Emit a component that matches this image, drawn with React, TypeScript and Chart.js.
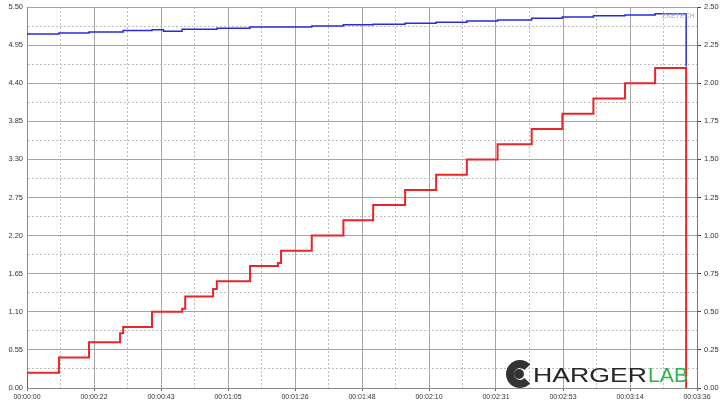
import React, { useEffect, useRef } from "react";
import { Chart, registerables } from "chart.js";

Chart.register(...registerables);

// Current (A, right axis) step changes: time in seconds
const currentTimes = [0, 0, 10.3, 20, 30, 31, 40.3, 50, 51, 60, 61.2, 71.9, 80.9, 81.9, 91.8, 102, 111.6, 121.9, 131.9, 141.8, 151.7, 162.7, 172.6, 182.6, 192.8, 202.5, 212.5];
const currentA = [0, 0.1, 0.2, 0.3, 0.36, 0.4, 0.5, 0.52, 0.6, 0.65, 0.7, 0.8, 0.82, 0.9, 1.0, 1.1, 1.2, 1.3, 1.4, 1.5, 1.6, 1.7, 1.8, 1.9, 2.0, 2.1, 0];

// Voltage (V, left axis) step changes
const voltageTimes = [0, 10.3, 20, 31, 40.3, 44, 50, 61.2, 71.9, 91.8, 102, 111.6, 121.9, 131.9, 141.8, 151.7, 162.7, 172.6, 182.6, 192.8, 202.5, 212.5];
const voltageV = [5.11, 5.125, 5.14, 5.16, 5.17, 5.15, 5.18, 5.195, 5.21, 5.227, 5.245, 5.252, 5.266, 5.28, 5.299, 5.313, 5.338, 5.356, 5.375, 5.385, 5.404, 4.64];

const xTickLabels = ["00:00:00", "00:00:22", "00:00:43", "00:01:05", "00:01:26", "00:01:48", "00:02:10", "00:02:31", "00:02:53", "00:03:14", "00:03:36"];
const leftTickLabels = ["0.00", "0.55", "1.10", "1.65", "2.20", "2.75", "3.30", "3.85", "4.40", "4.95", "5.50"];
const rightTickLabels = ["0.00", "0.25", "0.50", "0.75", "1.00", "1.25", "1.50", "1.75", "2.00", "2.25", "2.50"];

const X_MAX = 216;
const LEFT_MAX = 5.5;
const RIGHT_MAX = 2.5;

const MAJOR = "#a5a5a5";
const MINOR = "#bdbdbd";
const FONT = "'Liberation Sans', Arial, sans-serif";

const overlayPlugin = {
  id: "overlay",
  afterDraw(chart: any) {
    const ctx = chart.ctx as CanvasRenderingContext2D;
    ctx.save();
    // watermark
    ctx.font = `7px ${FONT}`;
    ctx.fillStyle = "#a9a9b9";
    ctx.textBaseline = "middle";
    ctx.textAlign = "left";
    ctx.fillText("ZKETECH", 662, 16);

    // logo icon
    ctx.strokeStyle = "#333";
    ctx.lineWidth = 8;
    ctx.beginPath();
    ctx.arc(520, 374, 10, 0.24 * Math.PI, 1.76 * Math.PI);
    ctx.stroke();
    ctx.fillStyle = "#333";
    ctx.beginPath();
    ctx.arc(519, 374, 5, 0, Math.PI * 2);
    ctx.fill();

    // logo text
    ctx.textBaseline = "alphabetic";
    ctx.font = `500 21px ${FONT}`;
    ctx.fillStyle = "#262626";
    const w1 = ctx.measureText("HARGER").width;
    ctx.save();
    ctx.translate(533, 382);
    ctx.scale(114 / w1, 1);
    ctx.fillText("HARGER", 0, 0);
    ctx.restore();
    ctx.font = `21px ${FONT}`;
    ctx.fillStyle = "#2fb24f";
    const w2 = ctx.measureText("LAB").width;
    ctx.save();
    ctx.translate(648, 382);
    ctx.scale(40 / w2, 1);
    ctx.fillText("LAB", 0, 0);
    ctx.restore();
    ctx.restore();
  },
};

export default function App() {
  const ref = useRef<HTMLCanvasElement | null>(null);

  useEffect(() => {
    if (!ref.current) return;
    const chart = new Chart(ref.current, {
      type: "line",
      data: {
        datasets: [
          {
            label: "Current",
            data: currentTimes.map((t, i) => ({ x: t, y: currentA[i] })),
            yAxisID: "yR",
            borderColor: "#e8262a",
            borderWidth: 2,
            pointRadius: 0,
            stepped: "before",
            fill: false,
          },
          {
            label: "Voltage",
            data: voltageTimes.map((t, i) => ({ x: t, y: voltageV[i] })),
            yAxisID: "yL",
            borderColor: "#2a2adc",
            borderWidth: 1.5,
            pointRadius: 0,
            stepped: "before",
            fill: false,
          },
        ],
      },
      options: {
        animation: false,
        responsive: true,
        maintainAspectRatio: false,
        layout: { padding: { top: 6, left: 0, right: 0, bottom: 0 } },
        plugins: { legend: { display: false }, tooltip: { enabled: false } },
        scales: {
          x: {
            type: "linear",
            min: 0,
            max: X_MAX,
            afterBuildTicks: (s: any) => {
              s.ticks = Array.from({ length: 21 }, (_, i) => ({ value: (i * X_MAX) / 20 }));
            },
            afterFit: (s: any) => {
              s.height = 21;
            },
            ticks: {
              autoSkip: false,
              maxRotation: 0,
              minRotation: 0,
              padding: 2,
              color: "#333",
              font: { family: FONT, size: 7 },
              callback: (_v: any, i: number) => (i % 2 === 0 ? xTickLabels[i / 2] : ""),
            },
            grid: {
              color: (c: any) => (c.index % 2 === 0 ? MAJOR : MINOR),
              lineWidth: 1,
              drawTicks: true,
              tickLength: 3,
              tickColor: (c: any) => (c.index % 2 === 0 ? "#666" : "rgba(0,0,0,0)"),
            },
            border: {
              display: true,
              color: "#888",
              dash: (c: any) => (c.type === "tick" && c.index % 2 === 1 ? [2, 2] : []),
            },
          },
          yL: {
            type: "linear",
            position: "left",
            min: 0,
            max: LEFT_MAX,
            afterBuildTicks: (s: any) => {
              s.ticks = Array.from({ length: 21 }, (_, i) => ({ value: (i * LEFT_MAX) / 20 }));
            },
            afterFit: (s: any) => {
              s.width = 27;
            },
            ticks: {
              autoSkip: false,
              padding: 4,
              color: "#333",
              font: { family: FONT, size: 7.5, lineHeight: 0.8 },
              callback: (_v: any, i: number) => (i % 2 === 0 ? leftTickLabels[i / 2] : ""),
            },
            grid: {
              color: (c: any) => (c.index % 2 === 0 ? MAJOR : MINOR),
              lineWidth: 1,
              drawTicks: false,
            },
            border: {
              display: true,
              color: "#888",
              dash: (c: any) => (c.type === "tick" && c.index % 2 === 1 ? [2, 2] : []),
            },
          },
          yR: {
            type: "linear",
            position: "right",
            min: 0,
            max: RIGHT_MAX,
            afterBuildTicks: (s: any) => {
              s.ticks = Array.from({ length: 11 }, (_, i) => ({ value: (i * RIGHT_MAX) / 10 }));
            },
            afterFit: (s: any) => {
              s.width = 23;
            },
            ticks: {
              autoSkip: false,
              padding: 3,
              color: "#333",
              font: { family: FONT, size: 7.5, lineHeight: 0.8 },
              callback: (_v: any, i: number) => rightTickLabels[i],
            },
            grid: {
              drawOnChartArea: false,
              drawTicks: true,
              tickLength: 4,
              tickColor: "#444",
            },
            border: { display: true, color: "#777" },
          },
        },
      },
      plugins: [overlayPlugin],
    } as any);
    return () => chart.destroy();
  }, []);

  return (
    <div style={{ position: "absolute", left: 0, top: 0, width: 720, height: 409, background: "#fff" }}>
      <canvas ref={ref} />
    </div>
  );
}
